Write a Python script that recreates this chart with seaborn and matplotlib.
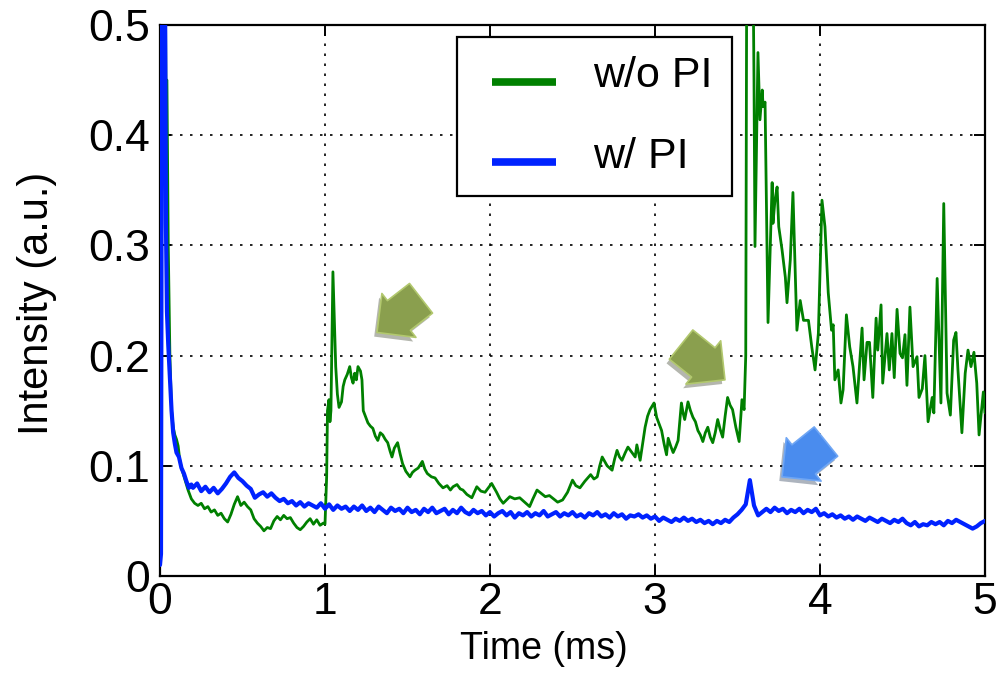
import matplotlib
matplotlib.use("Agg")
import matplotlib.pyplot as plt
import matplotlib.patheffects as pe
from matplotlib.lines import Line2D
from matplotlib.legend_handler import HandlerLine2D
import numpy as np
import pandas as pd
import seaborn as sns

# ---- measured traces -------------------------------------------------------
# w/o PI : (time in ms, intensity in a.u.)
t_wo = [0.0, 0.012, 0.03, 0.036, 0.042, 0.05, 0.055, 0.06, 0.07, 0.08, 0.09, 0.1,
        0.11, 0.12, 0.13, 0.15, 0.17, 0.19,
        0.21, 0.23, 0.25, 0.27, 0.29, 0.31, 0.33, 0.35, 0.37, 0.39, 0.41, 0.43,
        0.45, 0.47, 0.49, 0.51, 0.53, 0.55, 0.57, 0.59, 0.61, 0.63, 0.65, 0.67,
        0.69, 0.71, 0.73, 0.75, 0.77, 0.79, 0.81, 0.83, 0.85, 0.87, 0.89, 0.91,
        0.93, 0.95, 0.97, 0.99, 1.0,
        1.01, 1.015, 1.024, 1.03, 1.036, 1.048, 1.055, 1.065, 1.075, 1.085, 1.1,
        1.11, 1.12, 1.135, 1.15, 1.16, 1.17, 1.18, 1.19, 1.2, 1.215, 1.224, 1.232,
        1.245, 1.26, 1.275, 1.29, 1.305, 1.32, 1.335, 1.35, 1.365, 1.38, 1.395,
        1.406, 1.42, 1.44, 1.455, 1.47, 1.49, 1.515, 1.53, 1.545, 1.565, 1.59,
        1.605, 1.62, 1.645, 1.667, 1.69, 1.715, 1.74, 1.76, 1.776, 1.8, 1.82,
        1.836, 1.86, 1.89, 1.905, 1.92, 1.945, 1.97, 1.99, 2.01, 2.025, 2.04,
        2.06, 2.08, 2.1, 2.12, 2.15, 2.18, 2.21, 2.24, 2.26, 2.285, 2.31, 2.335,
        2.36, 2.385, 2.41, 2.44, 2.47, 2.5, 2.52, 2.545, 2.575, 2.61, 2.63, 2.65,
        2.665, 2.68, 2.71, 2.74, 2.755, 2.77, 2.785, 2.8, 2.82, 2.836, 2.86, 2.88,
        2.89, 2.91, 2.925, 2.94, 2.955, 2.97, 2.994, 3.01, 3.025, 3.04, 3.055,
        3.07, 3.08, 3.095, 3.11, 3.125, 3.14, 3.16, 3.17, 3.18, 3.2, 3.215, 3.23,
        3.245, 3.26, 3.275, 3.29, 3.305, 3.32, 3.335, 3.35, 3.365, 3.38, 3.395,
        3.41, 3.425, 3.44, 3.455, 3.47, 3.49, 3.51, 3.527, 3.54, 3.55, 3.56, 3.58,
        3.6, 3.606, 3.624, 3.636, 3.65, 3.655, 3.667, 3.685, 3.71, 3.715, 3.727,
        3.74, 3.75, 3.77, 3.79, 3.8, 3.82, 3.836, 3.86, 3.88, 3.9, 3.93, 3.95,
        3.97, 3.99, 4.012, 4.03, 4.05, 4.07, 4.08, 4.09, 4.11, 4.127, 4.14, 4.16,
        4.18, 4.2, 4.224, 4.255, 4.267, 4.285, 4.3, 4.32, 4.34, 4.35, 4.37, 4.38,
        4.406, 4.42, 4.436, 4.45, 4.467, 4.485, 4.5, 4.515, 4.527, 4.545, 4.564,
        4.588, 4.6, 4.62, 4.636, 4.655, 4.68, 4.69, 4.71, 4.733, 4.75, 4.77, 4.79,
        4.81, 4.824, 4.836, 4.86, 4.88, 4.897, 4.915, 4.933, 4.95, 4.964, 4.99,
        5.0]
i_wo = [0.01, 0.6, 0.6, 0.45, 0.45, 0.30, 0.25, 0.20, 0.15, 0.135, 0.128, 0.124,
        0.118, 0.105, 0.098, 0.088, 0.078, 0.07,
        0.066, 0.064, 0.066, 0.061, 0.063, 0.058, 0.060, 0.055, 0.057, 0.052,
        0.049, 0.056, 0.065, 0.072, 0.064, 0.067, 0.063, 0.060, 0.052, 0.048,
        0.045, 0.041, 0.044, 0.043, 0.050, 0.054, 0.051, 0.055, 0.052, 0.053,
        0.048, 0.044, 0.042, 0.045, 0.049, 0.052, 0.047, 0.051, 0.046, 0.048,
        0.047,
        0.09, 0.15, 0.16, 0.14, 0.15, 0.276, 0.24, 0.19, 0.165, 0.153, 0.158,
        0.172, 0.178, 0.183, 0.19, 0.18, 0.175, 0.184, 0.178, 0.19, 0.186, 0.178,
        0.15, 0.145, 0.139, 0.136, 0.134, 0.127, 0.123, 0.13, 0.128, 0.124, 0.121,
        0.113, 0.108, 0.116, 0.121, 0.111, 0.102, 0.095, 0.09, 0.094, 0.096,
        0.098, 0.104, 0.097, 0.093, 0.09, 0.089, 0.084, 0.08, 0.082, 0.078,
        0.081, 0.083, 0.079, 0.078, 0.074, 0.071, 0.076, 0.081, 0.077, 0.076,
        0.08, 0.084, 0.08, 0.076, 0.07, 0.066, 0.069, 0.072, 0.07, 0.071, 0.067,
        0.063, 0.07, 0.078, 0.075, 0.072, 0.073, 0.07, 0.067, 0.069, 0.076, 0.087,
        0.082, 0.08, 0.086, 0.092, 0.088, 0.09, 0.1, 0.108, 0.1, 0.096, 0.106,
        0.114, 0.108, 0.105, 0.112, 0.117, 0.112, 0.108, 0.119, 0.105, 0.12,
        0.135, 0.145, 0.151, 0.157, 0.144, 0.138, 0.132, 0.12, 0.11, 0.125, 0.118,
        0.112, 0.117, 0.123, 0.157, 0.148, 0.142, 0.158, 0.15, 0.144, 0.14, 0.132,
        0.128, 0.122, 0.13, 0.135, 0.126, 0.121, 0.13, 0.142, 0.133, 0.126, 0.145,
        0.162, 0.155, 0.151, 0.135, 0.122, 0.16, 0.151, 0.2, 0.8, 0.8,
        0.45, 0.299, 0.475, 0.414, 0.441, 0.426, 0.43, 0.23, 0.357, 0.32, 0.341,
        0.353, 0.317, 0.296, 0.271, 0.248, 0.287, 0.348, 0.223, 0.25, 0.232,
        0.232, 0.208, 0.187, 0.22, 0.341, 0.317, 0.257, 0.223, 0.228, 0.178,
        0.187, 0.157, 0.169, 0.237, 0.208, 0.19, 0.157, 0.225, 0.178, 0.212,
        0.212, 0.162, 0.234, 0.205, 0.246, 0.175, 0.22, 0.187, 0.22, 0.18, 0.242,
        0.202, 0.198, 0.219, 0.173, 0.244, 0.19, 0.199, 0.162, 0.17, 0.2, 0.14,
        0.162, 0.148, 0.27, 0.157, 0.338, 0.166, 0.146, 0.214, 0.221, 0.187,
        0.13, 0.184, 0.205, 0.19, 0.203, 0.175, 0.128, 0.167, 0.148]

# w/ PI : dense start, then a regular 0.025 ms grid from 0.2 ms
t_w_start = [0.0, 0.006, 0.012, 0.03, 0.036, 0.042, 0.05, 0.06, 0.07, 0.08, 0.09,
             0.1, 0.115, 0.13, 0.145, 0.16, 0.175, 0.19]
i_w_start = [0.01, 0.02, 0.55, 0.55, 0.32, 0.24, 0.21, 0.18, 0.15, 0.13, 0.12,
             0.112, 0.108, 0.098, 0.093, 0.086, 0.08, 0.083]
i_w_grid = [
    0.080, 0.084, 0.077, 0.081, 0.076, 0.080, 0.075, 0.079, 0.084, 0.090,
    0.094, 0.089, 0.086, 0.082, 0.079, 0.071, 0.074, 0.076, 0.072, 0.075,
    0.071, 0.068, 0.070, 0.066, 0.068, 0.064, 0.067, 0.063, 0.066, 0.064,
    0.062, 0.066, 0.061, 0.065, 0.060, 0.064, 0.061, 0.063, 0.059, 0.063,
    0.060, 0.064, 0.059, 0.062, 0.058, 0.063, 0.060, 0.057, 0.062, 0.059,
    0.061, 0.057, 0.062, 0.058, 0.060, 0.056, 0.061, 0.058, 0.062, 0.057,
    0.059, 0.061, 0.056, 0.060, 0.057, 0.062, 0.058, 0.056, 0.060, 0.057,
    0.059, 0.055, 0.058, 0.054, 0.057, 0.059, 0.055, 0.058, 0.053, 0.057,
    0.055, 0.058, 0.054, 0.057, 0.055, 0.059, 0.054, 0.056, 0.058, 0.054,
    0.057, 0.055, 0.058, 0.054, 0.056, 0.053, 0.057, 0.055, 0.058, 0.054,
    0.056, 0.053, 0.057, 0.054, 0.056, 0.052, 0.055, 0.054, 0.056, 0.053,
    0.055, 0.052, 0.054, 0.050, 0.053, 0.051, 0.049, 0.052, 0.050, 0.053,
    0.050, 0.052, 0.049, 0.051, 0.048, 0.050, 0.047, 0.050, 0.048, 0.051,
    0.049, 0.053, 0.056, 0.060, 0.065, 0.087, 0.064, 0.055, 0.058, 0.061,
    0.058, 0.062, 0.059, 0.061, 0.057, 0.060, 0.058, 0.061, 0.057, 0.060,
    0.058, 0.061, 0.055, 0.057, 0.054, 0.056, 0.053, 0.055, 0.052, 0.054,
    0.051, 0.054, 0.052, 0.050, 0.053, 0.051, 0.049, 0.052, 0.050, 0.048,
    0.051, 0.049, 0.052, 0.048, 0.046, 0.049, 0.045, 0.047, 0.046, 0.049,
    0.047, 0.049, 0.046, 0.050, 0.048, 0.051, 0.049, 0.047, 0.045, 0.043,
    0.045, 0.048, 0.050]
t_w_grid = [round(0.2 + 0.025 * k, 3) for k in range(len(i_w_grid))]
t_w = t_w_start + t_w_grid
i_w = i_w_start + i_w_grid

series_names = ["w/o PI", "w/ PI"]
series_colors = ["#008000", "#0022ff"]

x_ticks = [0, 1, 2, 3, 4, 5]
y_ticks = [0, 0.1, 0.2, 0.3, 0.4, 0.5]
y_tick_labels = ["0", "0.1", "0.2", "0.3", "0.4", "0.5"]

# ---- figure ----------------------------------------------------------------
sns.set_theme(style="white")
plt.rcParams["font.family"] = ["Liberation Sans", "DejaVu Sans"]
plt.rcParams["text.color"] = "black"
plt.rcParams["axes.labelcolor"] = "black"

df = pd.concat([
    pd.DataFrame({"Time": t_wo, "Intensity": i_wo, "Series": series_names[0]}),
    pd.DataFrame({"Time": t_w, "Intensity": i_w, "Series": series_names[1]}),
], ignore_index=True)

fig = plt.figure(figsize=(9.97, 6.98), dpi=100)
ax = fig.add_axes([160 / 997, 1 - 576 / 698, 825 / 997, 551 / 698])

sns.lineplot(data=df[df.Series == series_names[0]], x="Time", y="Intensity",
             color=series_colors[0], lw=2.0, estimator=None, sort=False,
             ax=ax, zorder=3)
sns.lineplot(data=df[df.Series == series_names[1]], x="Time", y="Intensity",
             color=series_colors[1], lw=3.0, estimator=None, sort=False,
             ax=ax, zorder=4)

ax.set_xlim(0, 5)
ax.set_ylim(0, 0.5)
ax.set_xticks(x_ticks)
ax.set_xticklabels([str(v) for v in x_ticks])
ax.set_yticks(y_ticks)
ax.set_yticklabels(y_tick_labels)

ax.grid(True, color="black", linestyle=(0, (1.5, 4.5)), lw=1.2)
for s in ax.spines.values():
    s.set_color("black")
    s.set_linewidth(1.6)
ax.tick_params(direction="in", length=8, width=1.4, colors="black",
               labelsize=32, top=True, right=True, bottom=True, left=True)
ax.tick_params(axis="x", pad=4)
ax.tick_params(axis="y", pad=7)
ax.set_xlabel("Time (ms)", fontsize=27, color="black")
ax.set_ylabel("Intensity (a.u.)", fontsize=30, color="black")
ax.xaxis.set_label_coords(0.465, -0.10)
ax.yaxis.set_label_coords(-0.125, 0.495)


def _legend_bar(legline, orig):
    """Copy the style, then sit the bar a little lower and start it later."""
    legline.update_from(orig)
    x0, x1 = legline.get_xdata()[0], legline.get_xdata()[-1]
    y = legline.get_ydata()[0] - 7
    legline.set_data([x0 + 11.5, x1], [y, y])


handles = [Line2D([], [], color=c, lw=5.5, solid_capstyle="butt")
           for c in series_colors]
leg = ax.legend(handles, series_names, loc="upper left",
                bbox_to_anchor=(0.36, 0.978), borderaxespad=0,
                fontsize=31, fancybox=False, framealpha=1,
                edgecolor="black", handlelength=1.86, handletextpad=0.85,
                labelspacing=0.93, borderpad=0.45,
                handler_map={Line2D: HandlerLine2D(update_func=_legend_bar)})
leg.get_frame().set_linewidth(1.6)
leg.set_zorder(6)

# annotation arrows pointing at the features
shadow = [pe.SimplePatchShadow(offset=(-2, -3), alpha=0.35), pe.Normal()]
arrows = [((1.315, 0.221), (1.582, 0.252), "#8a9f4e", "#b2c86e"),
          ((3.424, 0.178), (3.158, 0.210), "#8a9f4e", "#b2c86e"),
          ((3.770, 0.090), (4.036, 0.122), "#4a8cee", "#6fa6f4")]
for tip, tail, fc, ec in arrows:
    ann = ax.annotate("", xy=tip, xytext=tail,
                      arrowprops=dict(arrowstyle="simple,head_length=1.0,head_width=2.0,tail_width=1.35",
                                      fc=fc, ec=ec, lw=1.2, mutation_scale=20,
                                      shrinkA=0, shrinkB=0),
                      zorder=7)
    ann.arrow_patch.set_path_effects(shadow)

fig.savefig("out.png", dpi=100)
